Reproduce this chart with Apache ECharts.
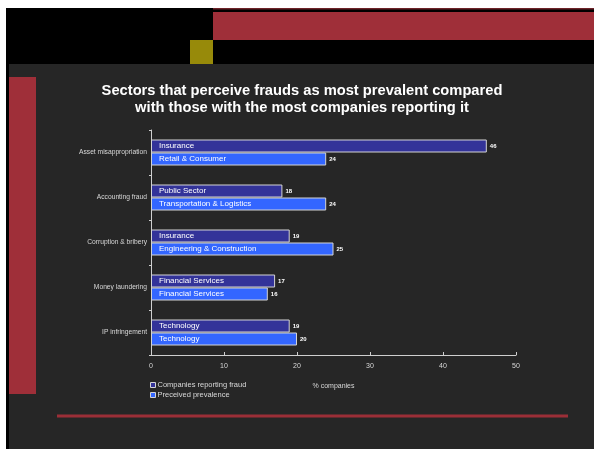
<!DOCTYPE html>
<html>
<head>
<meta charset="utf-8">
<script src="https://cdn.jsdelivr.net/npm/echarts@6/dist/echarts.min.js"></script>
<style>
  html, body { margin: 0; padding: 0; background: #ffffff; }
  #chart { width: 594px; height: 449px; }
</style>
</head>
<body>
<div id="chart"></div>
<script>
// Fraud types, listed top to bottom
const categories = ['Asset misappropriation', 'Accounting fraud', 'Corruption & bribery', 'Money laundering', 'IP infringement'];

// Share of companies reporting each fraud, and the sector reporting it most
const reportingValues = [46, 18, 19, 17, 19];
const reportingSectors = ['Insurance', 'Public Sector', 'Insurance', 'Financial Services', 'Technology'];

// Share perceiving each fraud as most prevalent, and the sector perceiving it most
const perceivedValues = [24, 24, 25, 16, 20];
const perceivedSectors = ['Retail & Consumer', 'Transportation & Logistics', 'Engineering & Construction', 'Financial Services', 'Technology'];

const xTicks = [0, 10, 20, 30, 40, 50];

const seriesNames = ['Companies reporting fraud', 'Preceived prevalence'];

const FONT = 'Liberation Sans, Arial, sans-serif';
const TEXT = '#d8d8d8';

const chart = echarts.init(document.getElementById('chart'), null, { renderer: 'canvas' });

function sectorSeries(name, values, sectors, color, stack) {
  return {
    name: name,
    type: 'bar',
    stack: stack,
    data: values,
    barWidth: 13,
    barGap: '0%',
    itemStyle: { color: color, borderColor: '#d4d4d4', borderWidth: 1 },
    label: {
      show: true,
      position: 'insideLeft',
      distance: 8,
      color: '#ffffff',
      fontFamily: FONT,
      fontSize: 8,
      formatter: p => sectors[p.dataIndex]
    },
    emphasis: { disabled: true },
    z: 3
  };
}

// Zero-length tail on each stack carries the value label past the bar end
function valueTail(values, stack) {
  return {
    name: stack + '-value',
    type: 'bar',
    stack: stack,
    data: values.map(() => 0),
    barWidth: 13,
    barGap: '0%',
    itemStyle: { color: 'transparent', borderWidth: 0 },
    label: {
      show: true,
      position: 'right',
      distance: 3,
      color: '#ffffff',
      fontFamily: FONT,
      fontWeight: 'bold',
      fontSize: 6,
      formatter: p => String(values[p.dataIndex])
    },
    emphasis: { disabled: true },
    silent: true,
    z: 4
  };
}

chart.setOption({
  backgroundColor: '#ffffff',
  animation: false,
  graphic: [
    // slide frame and panel
    { type: 'rect', shape: { x: 6, y: 8, width: 588, height: 441 }, style: { fill: '#000000' }, z: -10 },
    { type: 'rect', shape: { x: 9, y: 64, width: 585, height: 385 }, style: { fill: '#262626' }, z: -9 },
    { type: 'rect', shape: { x: 213, y: 8, width: 381, height: 1.5 }, style: { fill: '#6e2329' }, z: -8 },
    { type: 'rect', shape: { x: 213, y: 12, width: 381, height: 28 }, style: { fill: '#9f2f39' }, z: -8 },
    { type: 'rect', shape: { x: 190, y: 40, width: 23, height: 24 }, style: { fill: '#978a0a' }, z: -8 },
    { type: 'rect', shape: { x: 9, y: 77, width: 27, height: 317 }, style: { fill: '#9f2f39' }, z: -8 },
    { type: 'rect', shape: { x: 57, y: 414.5, width: 511, height: 3 }, style: { fill: '#9b2e37' }, z: -8 }
  ],
  title: {
    text: 'Sectors that perceive frauds as most prevalent compared\nwith those with the most companies reporting it',
    left: 297,
    top: 77,
    textAlign: 'center',
    textStyle: {
      color: '#ffffff',
      fontFamily: FONT,
      fontWeight: 'bold',
      fontSize: 14.7,
      lineHeight: 17.5
    }
  },
  legend: {
    data: seriesNames,
    orient: 'vertical',
    left: 145,
    top: 376,
    itemWidth: 5,
    itemHeight: 5,
    itemGap: 2,
    icon: 'rect',
    selectedMode: false,
    itemStyle: { borderColor: '#d4d4d4', borderWidth: 1 },
    textStyle: { color: TEXT, fontFamily: FONT, fontSize: 7.5, padding: [0, 0, 0, -3] }
  },
  grid: { left: 151, right: 78, top: 130, bottom: 94, containLabel: false },
  xAxis: {
    type: 'value',
    min: xTicks[0],
    max: xTicks[xTicks.length - 1],
    interval: 10,
    name: '% companies',
    nameLocation: 'middle',
    nameGap: 28,
    nameTextStyle: { color: TEXT, fontFamily: FONT, fontSize: 7 },
    axisLine: { show: true, lineStyle: { color: '#cfcfcf', width: 1 } },
    axisTick: { show: true, inside: true, length: 3, lineStyle: { color: '#cfcfcf' } },
    axisLabel: { color: TEXT, fontFamily: FONT, fontSize: 7, margin: 8 },
    splitLine: { show: false }
  },
  yAxis: {
    type: 'category',
    inverse: true,
    data: categories,
    axisLine: { show: true, lineStyle: { color: '#cfcfcf', width: 1 } },
    axisTick: { show: true, length: 2, alignWithLabel: false, lineStyle: { color: '#cfcfcf' } },
    axisLabel: { color: TEXT, fontFamily: FONT, fontSize: 6.7, margin: 4 }
  },
  series: [
    sectorSeries(seriesNames[0], reportingValues, reportingSectors, '#333399', 'reporting'),
    valueTail(reportingValues, 'reporting'),
    sectorSeries(seriesNames[1], perceivedValues, perceivedSectors, '#3366ff', 'perceived'),
    valueTail(perceivedValues, 'perceived')
  ]
});
</script>
</body>
</html>
